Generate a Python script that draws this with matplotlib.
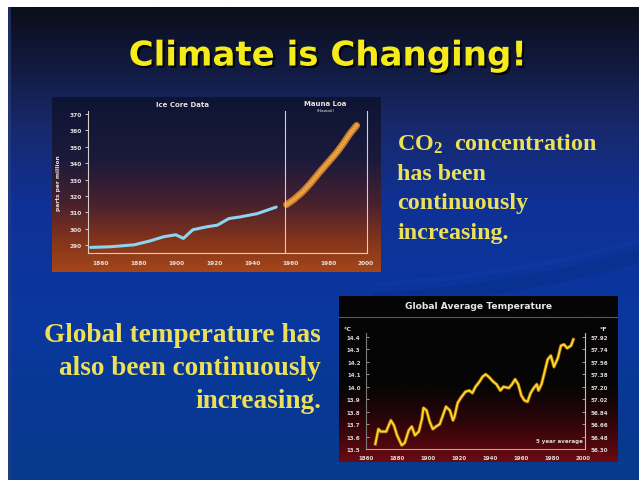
import numpy as np
import matplotlib
matplotlib.use("Agg")
import matplotlib.pyplot as plt
import matplotlib.patheffects as pe
from matplotlib.colors import LinearSegmentedColormap

plt.rcParams["mathtext.fontset"] = "custom"
plt.rcParams["mathtext.rm"] = "Liberation Serif:bold"
plt.rcParams["mathtext.it"] = "Liberation Serif:bold"
plt.rcParams["mathtext.bf"] = "Liberation Serif:bold"

# ---------------------------------------------------------------------------
# Data
# ---------------------------------------------------------------------------
ice_years = [1854.5, 1865, 1877.5, 1886, 1893, 1899.5, 1903.5, 1908.5, 1916, 1921.5, 1927.5, 1933.5, 1942.5, 1952.5]
ice_ppm = [288.6, 289.0, 290.2, 292.6, 295.1, 296.3, 294.1, 299.4, 301.2, 302.2, 306.2, 307.2, 309.2, 313.2]

mlo_years = [1958, 1962, 1966.5, 1970.5, 1975.5, 1980, 1984.5, 1988, 1991.5, 1995]
mlo_ppm = [314.7, 318.0, 322.5, 327.5, 334.5, 340.5, 346.5, 352.0, 358.0, 363.0]

co2_xticks = [1860, 1880, 1900, 1920, 1940, 1960, 1980, 2000]
co2_yticks = [290, 300, 310, 320, 330, 340, 350, 360, 370]

temp_years = [1866, 1868, 1869.5, 1873, 1876, 1878, 1880, 1883, 1885, 1887.5,
              1889.5, 1891.5, 1894, 1896, 1897, 1899, 1901, 1903, 1905, 1907.5,
              1909.5, 1911.5, 1914, 1916, 1917, 1919, 1921, 1924, 1926.5, 1928.5,
              1930.5, 1933, 1935, 1937, 1939, 1942, 1944, 1946.5, 1948.5, 1952,
              1954, 1956, 1958, 1960, 1962, 1964, 1966, 1968, 1970, 1971,
              1973, 1975, 1977, 1979, 1981, 1983.5, 1985.5, 1987.5, 1989.5, 1992,
              1993.5]
temp_c = [13.54, 13.66, 13.64, 13.64, 13.73, 13.69, 13.61, 13.53, 13.55, 13.65,
          13.68, 13.61, 13.64, 13.74, 13.83, 13.81, 13.72, 13.66, 13.68, 13.70,
          13.77, 13.84, 13.81, 13.73, 13.76, 13.87, 13.91, 13.96, 13.97, 13.95,
          14.00, 14.04, 14.08, 14.10, 14.08, 14.04, 14.02, 13.97, 14.00, 13.99,
          14.02, 14.06, 14.02, 13.93, 13.89, 13.88, 13.95, 13.99, 14.02, 13.97,
          14.02, 14.12, 14.22, 14.25, 14.16, 14.23, 14.33, 14.34, 14.31, 14.33,
          14.38]

temp_xticks = [1860, 1880, 1900, 1920, 1940, 1960, 1980, 2000]
temp_cticks = [13.5, 13.6, 13.7, 13.8, 13.9, 14.0, 14.1, 14.2, 14.3, 14.4]

TITLE = "Climate is Changing!"
co2_lines = [r"CO$_{2}$  concentration", "has been", "continuously", "increasing."]
temp_lines = ["Global temperature has", "also been continuously", "increasing."]

W, H = 639, 481
YELLOW = "#f5ea1a"
TEXT_YELLOW = "#ebe058"

fig = plt.figure(figsize=(W / 100, H / 100), dpi=100, facecolor="white")


def px_axes(x0, y0, x1, y1, **kw):
    # axes placed by pixel box, origin at the top-left corner
    return fig.add_axes([x0 / W, 1 - y1 / H, (x1 - x0) / W, (y1 - y0) / H], **kw)


def gradient_fill(ax, stops, colors, extent=(0, 1, 0, 1)):
    cmap = LinearSegmentedColormap.from_list("grad", list(zip(stops, colors)))
    grad = np.linspace(0, 1, 256).reshape(-1, 1)
    ax.imshow(grad, cmap=cmap, extent=extent, aspect="auto", origin="upper",
              interpolation="bilinear", zorder=0)


# ===========================================================================
# Slide background
# ===========================================================================
bg = fig.add_axes([0, 0, 1, 1])
bg.set_xlim(0, W)
bg.set_ylim(H, 0)
bg.axis("off")
gradient_fill(bg, [0.0, 0.12, 0.25, 0.42, 0.65, 1.0],
              ["#0b0e1a", "#111a3e", "#17296c", "#0f3196", "#0a379f", "#073a8c"],
              extent=(8, W, H, 8))
bg.add_patch(plt.Rectangle((8, 8), 3, H - 8, color="#2b3f86", alpha=0.6, lw=0))

# faint swoosh across the right side
sx = np.linspace(380, W, 100)
bg.plot(sx, 300 - 0.00045 * (sx - 380) ** 2 - 0.05 * (sx - 380), color="#062a7e", lw=10, alpha=0.3)
bg.plot(sx, 285 - 0.0004 * (sx - 380) ** 2 - 0.06 * (sx - 380), color="#2a56c0", lw=3, alpha=0.1)

bg.text(328, 57, TITLE, color=YELLOW, fontsize=24.5, fontweight="bold",
        family="DejaVu Sans", ha="center", va="center",
        path_effects=[pe.SimplePatchShadow(offset=(1.6, -1.6), shadow_rgbFace="black", alpha=0.8),
                      pe.Normal()])

for i, line in enumerate(co2_lines):
    bg.text(397, 151 + i * 29.2, line, color=TEXT_YELLOW, fontsize=17.3,
            family="Liberation Serif", fontweight="bold", ha="left", va="baseline")

for i, line in enumerate(temp_lines):
    bg.text(321, 342 + i * 33.2, line, color=TEXT_YELLOW, fontsize=19.6,
            family="Liberation Serif", fontweight="bold", ha="right", va="baseline")

# ===========================================================================
# CO2 chart (ice core + Mauna Loa)
# ===========================================================================
co2_bg = px_axes(52, 98, 381, 273)
co2_bg.axis("off")
gradient_fill(co2_bg, [0.0, 0.35, 0.6, 0.82, 1.0],
              ["#0e1434", "#1a1a3c", "#46202e", "#83341a", "#a5461a"])

ax = px_axes(88, 112, 367, 254)
ax.patch.set_alpha(0)
ax.set_xlim(1853.1, 2000.5)
ax.set_ylim(285.2, 371.8)
ax.plot(ice_years, ice_ppm, color="#8ed4f0", lw=2.2, solid_capstyle="round")
ax.plot(mlo_years, mlo_ppm, color="#c8782a", lw=5.0, solid_capstyle="round")
ax.plot(mlo_years, mlo_ppm, color="#eaa848", lw=2.4)
ax.plot(mlo_years, mlo_ppm, color="#c87224", lw=0.8, ls=(0, (1, 2)), alpha=0.7)
ax.axvline(1957.2, color="#d8cfc8", lw=0.8)

ax.spines["top"].set_visible(False)
for side in ("left", "right", "bottom"):
    ax.spines[side].set_color("#d8cfc8")
    ax.spines[side].set_linewidth(0.8)
ax.set_xticks(co2_xticks)
ax.set_yticks(co2_yticks)
ax.tick_params(colors="#e8e0dc", labelsize=4.2, length=2, width=0.6, pad=2.5)
ax.tick_params(axis="x", length=0, pad=5)
for lab in ax.get_xticklabels() + ax.get_yticklabels():
    lab.set_fontweight("bold")
ax.set_ylabel("parts per million", color="#e8e0dc", fontsize=4.2, fontweight="bold", labelpad=6)
ax.text(0.34, 1.05, "Ice Core Data", transform=ax.transAxes, color="#e8e0dc",
        fontsize=5, fontweight="bold", ha="center", va="center")
ax.text(1978.5, 1.055, "Mauna Loa", transform=ax.get_xaxis_transform(), color="#e8e0dc",
        fontsize=5, fontweight="bold", ha="center", va="center")
ax.text(1978.5, 1.01, "(Hawaii)", transform=ax.get_xaxis_transform(), color="#e8e0dc",
        fontsize=3.2, ha="center", va="center")

# ===========================================================================
# Global average temperature chart
# ===========================================================================
t_bg = px_axes(339, 297, 618, 463)
t_bg.axis("off")
gradient_fill(t_bg, [0.0, 0.55, 0.72, 0.88, 1.0],
              ["#050505", "#070505", "#250508", "#4a070c", "#6c0b14"])
t_bg.axhline(1 - 21 / 166, color="#5a5a5a", lw=0.8)
t_bg.text(0.5, 1 - 10 / 166, "Global Average Temperature", transform=t_bg.transAxes,
          color="#e6e6e6", fontsize=6.6, fontweight="bold", ha="center", va="center")

tx = px_axes(366, 334, 585, 450)
tx.patch.set_alpha(0)
tx.set_xlim(1860, 2001)
tx.set_ylim(13.5, 14.432)
tx.plot(temp_years, temp_c, color="#ffd52a", lw=1.4,
        path_effects=[pe.Stroke(linewidth=2.5, foreground="#8a5a0c"), pe.Normal()])
tx.spines["top"].set_visible(False)
tx.spines["left"].set_color("#7a7a7a")
tx.spines["right"].set_color("#bdbdbd")
tx.spines["bottom"].set_color("#c8a860")
for side in ("left", "right", "bottom"):
    tx.spines[side].set_linewidth(0.8)
tx.set_xticks(temp_xticks)
tx.set_yticks(temp_cticks)
tx.yaxis.set_major_formatter(plt.FormatStrFormatter("%.1f"))
tx.tick_params(colors="#e0d8d8", labelsize=4.0, length=2, width=0.5, direction="in", pad=4)
tx.tick_params(axis="x", length=0, pad=4)
for lab in tx.get_xticklabels() + tx.get_yticklabels():
    lab.set_fontweight("bold")

fax = tx.secondary_yaxis("right", functions=(lambda c: c * 1.8 + 32, lambda f: (f - 32) / 1.8))
fax.set_yticks([c * 1.8 + 32 for c in temp_cticks])
fax.yaxis.set_major_formatter(plt.FormatStrFormatter("%.2f"))
fax.tick_params(colors="#e0d8d8", labelsize=4.0, length=2, width=0.5, direction="in", pad=4)
fax.spines["right"].set_visible(False)
for lab in fax.get_yticklabels():
    lab.set_fontweight("bold")

tx.text(1860 - 12, 14.47, "°C", color="#e0d8d8", fontsize=4.6, fontweight="bold",
        ha="center", va="center", clip_on=False)
tx.text(2001 + 12, 14.47, "°F", color="#e0d8d8", fontsize=4.6, fontweight="bold",
        ha="center", va="center", clip_on=False)
tx.text(1984.5, 13.565, "5 year average", color="#e0d8d8", fontsize=4.0,
        fontweight="bold", ha="center", va="center")

fig.savefig("out.png", dpi=100, facecolor="white")
